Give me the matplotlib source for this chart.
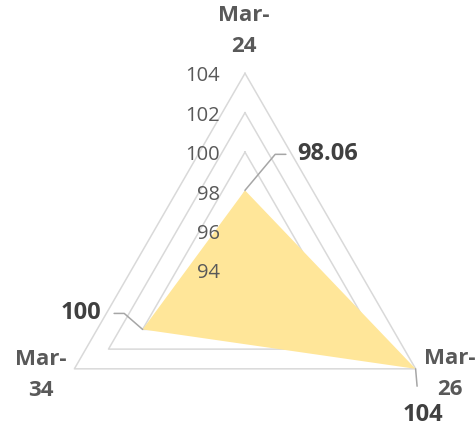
import numpy as np
import matplotlib
matplotlib.use("Agg")
import matplotlib.pyplot as plt

plt.rcParams['font.family'] = ['Open Sans', 'DejaVu Sans']

categories = ['Mar-\n24', 'Mar-\n26', 'Mar-\n34']
values = [98.06, 104, 100]
value_labels = ['98.06', '104', '100']
ticks = [94, 96, 98, 100, 102, 104]

grid_col = '#D9D9D9'
fill_col = '#FFE699'
axis_txt = '#595959'
lab_txt = '#404040'
lead_col = '#A6A6A6'

fig = plt.figure(figsize=(4.77, 4.26), dpi=100)
ax = fig.add_axes([0.1006, -0.097, 0.826, 0.9249], projection='polar')
ax.set_theta_zero_location('N')
ax.set_theta_direction(-1)
ax.set_ylim(ticks[0], ticks[-1])
ax.grid(False)
ax.set_xticks([])
ax.set_yticks([])
ax.spines['polar'].set_visible(False)
ax.patch.set_visible(False)

n = len(categories)
theta = np.linspace(0, 2 * np.pi, n, endpoint=False)
theta_c = np.append(theta, theta[0])

# triangular grid
for t in ticks[1:]:
    ax.plot(theta_c, [t] * (n + 1), color=grid_col, lw=1.1, clip_on=False, zorder=1)

vals_c = values + [values[0]]
ax.fill(theta_c, vals_c, color=fill_col, lw=0, clip_on=False, zorder=2)

# value axis labels
for t in ticks:
    ax.annotate(str(t), xy=(0, t), xytext=(-25, -3), textcoords='offset pixels',
                ha='right', va='center', fontsize=14.5, color=axis_txt,
                annotation_clip=False)

# category labels
cat_off = [(-1, 42), (34, -5), (-34, -6)]
for th, c, off in zip(theta, categories, cat_off):
    ax.annotate(c, xy=(th, ticks[-1]), xytext=off, textcoords='offset pixels',
                ha='center', va='center', multialignment='center',
                fontsize=16, fontweight='bold', color=axis_txt, linespacing=1.62,
                annotation_clip=False)

# data labels with leader lines
ax.annotate(value_labels[0], xy=(theta[0], values[0]), xytext=(52, 36),
            textcoords='offset pixels', ha='left', va='center',
            fontsize=17, fontweight='bold', color=lab_txt, annotation_clip=False,
            arrowprops=dict(arrowstyle='-', color=lead_col, lw=1.1, relpos=(0, 0.5),
                            shrinkA=6, shrinkB=0,
                            connectionstyle='angle,angleA=0,angleB=50,rad=0'))
ax.annotate(value_labels[1], xy=(theta[1], values[1]), xytext=(7, -46),
            textcoords='offset pixels', ha='center', va='center',
            fontsize=17, fontweight='bold', color=lab_txt, annotation_clip=False,
            arrowprops=dict(arrowstyle='-', color=lead_col, lw=1.1, relpos=(0.4, 1),
                            shrinkA=10, shrinkB=0))
ax.annotate(value_labels[2], xy=(theta[2], values[2]), xytext=(-41, 16),
            textcoords='offset pixels', ha='right', va='center',
            fontsize=17, fontweight='bold', color=lab_txt, annotation_clip=False,
            arrowprops=dict(arrowstyle='-', color=lead_col, lw=1.1, relpos=(1, 0.5),
                            shrinkA=7, shrinkB=0,
                            connectionstyle='angle,angleA=0,angleB=-41,rad=0'))

fig.savefig('out.png', dpi=100)
